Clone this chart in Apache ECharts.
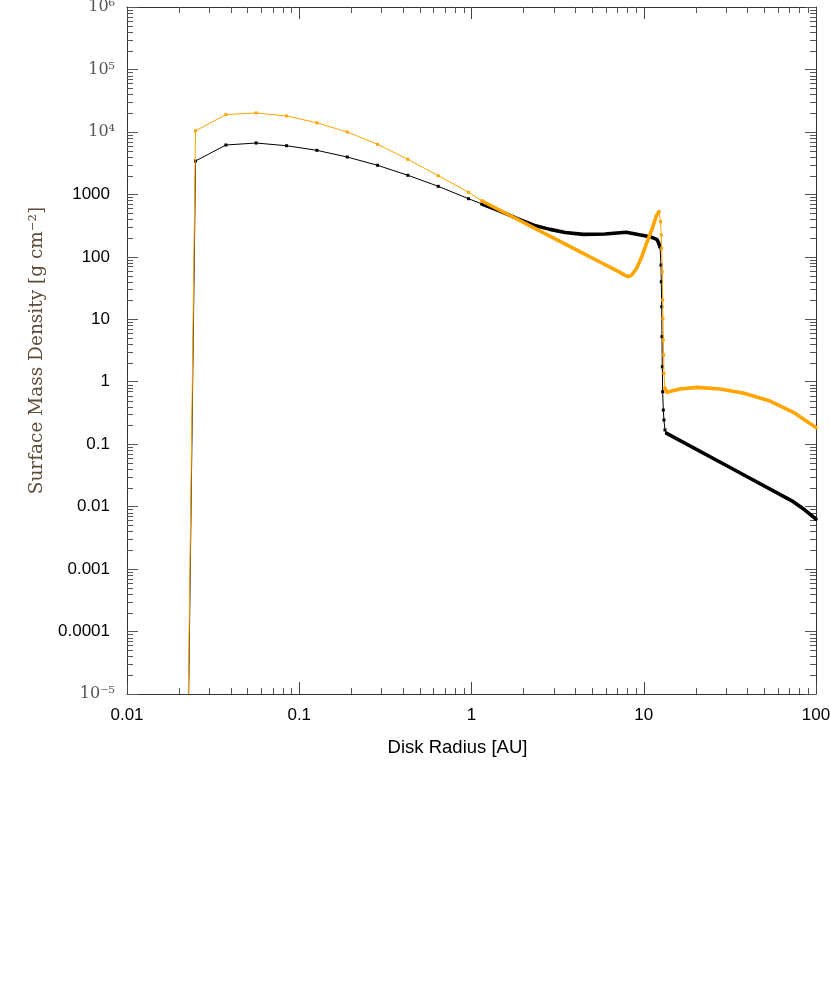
<!DOCTYPE html>
<html><head><meta charset="utf-8">
<script src="https://cdn.jsdelivr.net/npm/echarts@6/dist/echarts.min.js"></script>
<style>html,body{margin:0;padding:0;background:#fff}#c{width:830px;height:988px}</style>
</head><body><div id="c"></div>
<script>
// ---- data ----
const orangeInnerX = [0.0165, 0.025, 0.0375, 0.0562, 0.0844, 0.1266, 0.19, 0.285, 0.427, 0.641, 0.961, 1.151];
const orangeInnerY = [1e-35, 10400, 18900, 20100, 18000, 14000, 9960, 6330, 3640, 1990, 1080, 783];
const orangeMidX = [1.151, 3.885, 5.57, 6.66, 7.2, 7.7, 8.12, 8.51, 9.10, 9.73, 10.40, 11.12, 11.89, 12.26];
const orangeMidY = [783, 138, 82.6, 64.0, 57.3, 51.5, 48.0, 51.1, 65.4, 100, 165, 269, 467, 527];
const orangeDropX = [12.26, 12.52, 12.64, 12.71, 12.81, 12.88, 12.93, 12.99, 13.05, 13.10, 13.28];
const orangeDropY = [527, 365, 223, 137, 57.7, 20.3, 10.35, 4.65, 2.68, 1.36, 0.784];
const orangeOuterX = [13.28, 13.59, 16.2, 20.4, 27.7, 37.7, 54.1, 73.5, 100];
const orangeOuterY = [0.784, 0.68, 0.764, 0.813, 0.764, 0.659, 0.491, 0.327, 0.185];

const blackInnerX = [0.0165, 0.025, 0.0375, 0.0562, 0.0844, 0.1266, 0.19, 0.285, 0.427, 0.641, 0.961, 1.151];
const blackInnerY = [1e-35, 3420, 6170, 6640, 6010, 5070, 3960, 2920, 2020, 1345, 852, 701];
const blackMidX = [1.151, 1.464, 1.862, 2.3, 2.856, 3.5, 4.45, 5.96, 7.9, 10.87, 11.89, 12.11, 12.43];
const blackMidY = [701, 540, 405, 320, 275, 245, 229, 232, 247, 210, 190.6, 174.6, 145];
const blackDropX = [12.43, 12.59, 12.64, 12.71, 12.76, 12.81, 12.88, 12.99, 13.10, 13.28, 13.59];
const blackDropY = [145, 73.9, 39.9, 15.9, 5.26, 1.74, 0.692, 0.352, 0.244, 0.169, 0.149];
const blackOuterX = [13.59, 31.7, 73.8, 86.3, 100];
const blackOuterY = [0.149, 0.0423, 0.012, 0.00883, 0.0063];

const xTickLabels = ['0.01', '0.1', '1', '10', '100'];           // exponents -2..2
const yTickLabels = ['10⁻⁵', '0.0001', '0.001', '0.01', '0.1', '1', '10', '100', '1000', '10⁴', '10⁵', '10⁶']; // exponents -5..6
const ySerif = [true, false, false, false, false, false, false, false, false, true, true, true];
const xMin = 0.01, xMax = 100, yMin = 1e-5, yMax = 1e6;
const xMinor = [], yMinor = [];
for (let e = -2; e < 2; e++) for (let k = 2; k <= 9; k++) xMinor.push(k * Math.pow(10, e));
for (let e = -5; e < 6; e++) for (let k = 2; k <= 9; k++) yMinor.push(k * Math.pow(10, e));

const zip = (a, b) => a.map((v, i) => [v, b[i]]);
const ORANGE = '#FFA500', BLACK = '#000000';
const SANS = "'Liberation Sans', Arial, sans-serif";
const SERIF = "'DejaVu Serif', 'Liberation Serif', serif";

const chart = echarts.init(document.getElementById('c'), null, {renderer: 'canvas'});

function thin(name, data, color, z) {
  return {type: 'line', name, data, xAxisIndex: 0, yAxisIndex: 0, clip: true, z,
    showSymbol: true, showAllSymbol: true, symbol: 'rect', symbolSize: 3,
    itemStyle: {color}, lineStyle: {color, width: 1}, animation: false, silent: true};
}
function thick(name, data, color, z) {
  return {type: 'line', name, data, xAxisIndex: 0, yAxisIndex: 0, clip: true, z,
    showSymbol: false, smooth: false, lineStyle: {color, width: 3.6, join: 'round', cap: 'round'},
    animation: false, silent: true};
}
const tickStyle = {stroke: '#555', lineWidth: 1};
const minorLen = 6;

const option = {
  backgroundColor: '#fff',
  animation: false,
  grid: {left: 127, right: 14, top: 7, bottom: 294, containLabel: false, outerBoundsMode: 'none'},
  xAxis: [
    {type: 'log', logBase: 10, min: xMin, max: xMax, interval: 1, position: 'bottom',
     axisLine: {show: true, onZero: false, lineStyle: {color: '#333', width: 1}},
     axisTick: {show: true, inside: true, length: 12, lineStyle: {color: '#444'}},
     splitLine: {show: false}, minorTick: {show: false},
     axisLabel: {fontFamily: SANS, fontSize: 17, color: '#000', margin: 13,
       formatter: v => xTickLabels[Math.round(Math.log10(v)) + 2]},
     name: 'Disk Radius [AU]', nameLocation: 'middle', nameGap: 44,
     nameTextStyle: {fontFamily: SANS, fontSize: 18.5, color: '#000', padding: [0, 28, 0, 0]}},
    {type: 'log', logBase: 10, min: xMin, max: xMax, interval: 1, position: 'top',
     axisLine: {show: true, onZero: false, lineStyle: {color: '#333', width: 1}},
     axisTick: {show: true, inside: true, length: 12, lineStyle: {color: '#444'}},
     splitLine: {show: false}, axisLabel: {show: false}}
  ],
  yAxis: [
    {type: 'log', logBase: 10, min: yMin, max: yMax, interval: 1, position: 'left',
     axisLine: {show: true, onZero: false, lineStyle: {color: '#333', width: 1}},
     axisTick: {show: true, inside: true, length: 11, lineStyle: {color: '#555'}},
     splitLine: {show: false},
     axisLabel: {margin: 12,
       formatter: v => { const i = Math.round(Math.log10(v)) + 5; return ySerif[i] ? '{s|' + yTickLabels[i] + '}' : '{n|' + yTickLabels[i] + '}{g|}'; },
       rich: {s: {fontFamily: SERIF, fontSize: 16, color: '#555'},
              n: {fontFamily: SANS, fontSize: 17, color: '#000'},
              g: {width: 5}}},
     name: 'Surface Mass Density [g cm⁻²]', nameLocation: 'middle', nameGap: 72,
     nameTextStyle: {fontFamily: SERIF, fontSize: 18.5, color: '#5e4c3a'}},
    {type: 'log', logBase: 10, min: yMin, max: yMax, interval: 1, position: 'right',
     axisLine: {show: true, onZero: false, lineStyle: {color: '#333', width: 1}},
     axisTick: {show: true, inside: true, length: 11, lineStyle: {color: '#555'}},
     splitLine: {show: false}, axisLabel: {show: false}}
  ],
  series: [
    {type: 'custom', xAxisIndex: 0, yAxisIndex: 0, silent: true, z: 1,
     data: xMinor.map(v => [v, yMin]), encode: {x: 0, y: 1},
     renderItem: (p, api) => {
       const v = api.value(0);
       const b = api.coord([v, yMin]), t = api.coord([v, yMax]);
       const x = Math.round(b[0]) + 0.5;
       return {type: 'group', children: [
         {type: 'line', shape: {x1: x, y1: b[1], x2: x, y2: b[1] - minorLen}, style: tickStyle},
         {type: 'line', shape: {x1: x, y1: t[1], x2: x, y2: t[1] + minorLen}, style: tickStyle}]};
     }},
    {type: 'custom', xAxisIndex: 0, yAxisIndex: 0, silent: true, z: 1,
     data: yMinor.map(v => [xMin, v]), encode: {x: 0, y: 1},
     renderItem: (p, api) => {
       const v = api.value(1);
       const l = api.coord([xMin, v]), r = api.coord([xMax, v]);
       const y = Math.round(l[1]) + 0.5;
       return {type: 'group', children: [
         {type: 'line', shape: {x1: l[0], y1: y, x2: l[0] + minorLen, y2: y}, style: tickStyle},
         {type: 'line', shape: {x1: r[0], y1: y, x2: r[0] - minorLen, y2: y}, style: tickStyle}]};
     }},
    thin('blackInner', zip(blackInnerX, blackInnerY), BLACK, 3),
    thick('blackMid', zip(blackMidX, blackMidY), BLACK, 3),
    thin('blackDrop', zip(blackDropX, blackDropY), BLACK, 3),
    thick('blackOuter', zip(blackOuterX, blackOuterY), BLACK, 3),
    thin('orangeInner', zip(orangeInnerX, orangeInnerY), ORANGE, 4),
    thick('orangeMid', zip(orangeMidX, orangeMidY), ORANGE, 4),
    thin('orangeDrop', zip(orangeDropX, orangeDropY), ORANGE, 4),
    thick('orangeOuter', zip(orangeOuterX, orangeOuterY), ORANGE, 4)
  ]
};
chart.setOption(option);
</script>
</body></html>
